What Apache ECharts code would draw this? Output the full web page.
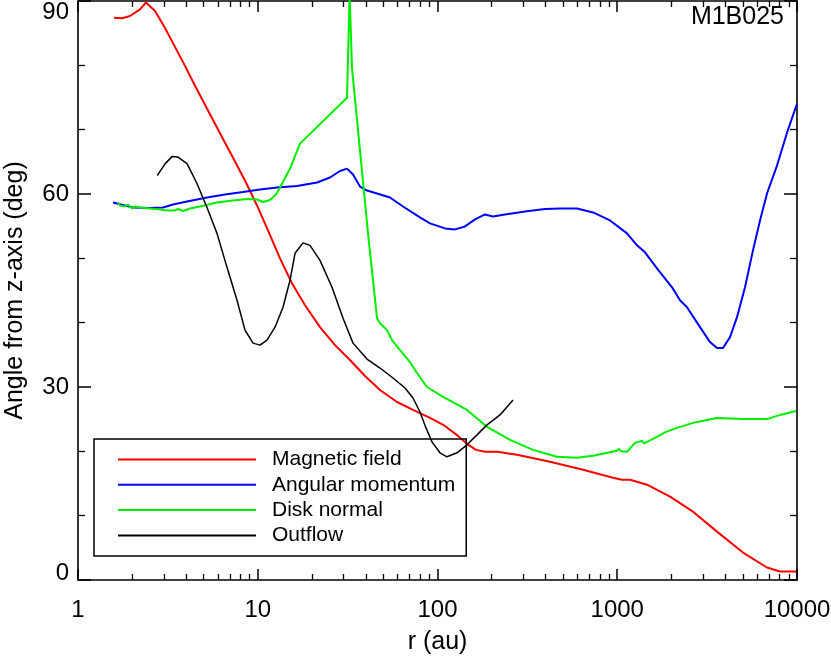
<!DOCTYPE html>
<html>
<head>
<meta charset="utf-8">
<script src="https://cdn.jsdelivr.net/npm/echarts@6/dist/echarts.min.js"></script>
<style>html,body{margin:0;padding:0;background:#fff}#c{width:831px;height:659px}</style>
</head>
<body>
<div id="c"></div>
<script>
// ---- data: [r (au), angle (deg)] ----
const seriesNames = ['Magnetic field', 'Angular momentum', 'Disk normal', 'Outflow'];
const xTickValues = [1, 10, 100, 1000, 10000];
const yTickValues = [0, 30, 60, 90];

const magneticField = [
  [1.586,87.41],[1.757,87.32],[1.947,87.67],[2.213,88.71],[2.389,89.77],[2.682,88.45],[3.048,85.81],
  [3.464,82.87],[3.938,79.92],[4.476,76.82],[5.088,73.88],[5.783,70.93],[6.574,67.98],[7.471,65.04],
  [8.601,61.78],[9.904,58.22],[11.40,54.34],[13.30,50.0],[15.50,46.12],[18.32,42.71],[22.20,39.30],
  [26.90,36.51],[32.60,34.19],[39.52,31.71],[47.87,29.53],[59.52,27.67],[73.06,26.43],[90.85,25.19],
  [110.1,23.95],[130.0,22.40],[145.9,21.16],[163.8,20.23],[183.8,19.92],[214.3,19.92],[276.9,19.46],
  [422.6,18.37],[645.0,17.13],[947.0,15.89],[1063,15.58],[1178,15.58],[1464,14.81],[1966,12.95],
  [2639,10.62],[3588,7.52],[5006,4.26],[6810,1.94],[8042,1.32],[9872,1.32]
];
const angularMomentum = [
  [1.566,58.68],[2.023,57.91],[2.515,57.83],[2.971,57.91],[3.377,58.37],[4.041,58.84],[5.221,59.46],
  [6.574,59.92],[8.279,60.31],[10.29,60.70],[12.80,61.01],[16.54,61.24],[21.36,61.78],[25.23,62.56],
  [28.68,63.57],[31.37,63.95],[33.88,63.02],[37.06,61.16],[40.54,60.54],[46.07,60.08],[54.42,59.46],
  [64.29,58.06],[79.89,56.36],[90.85,55.43],[110.1,54.65],[125.1,54.50],[142.2,54.96],[161.7,56.05],
  [183.8,56.82],[203.6,56.51],[237.4,56.82],[306.8,57.29],[396.4,57.67],[480.3,57.75],[597.2,57.75],
  [733.2,57.13],[911.6,55.89],[1133,53.88],[1288,52.02],[1427,50.93],[1664,48.45],[2017,45.50],
  [2234,43.49],[2444,42.40],[2887,39.30],[3281,36.98],[3588,36.05],[3876,36.05],[4240,37.75],
  [4637,40.85],[5137,45.50],[5690,51.24],[6226,55.89],[6810,60.08],[7740,64.42],[8800,69.53],[10000,74.03]
];
const diskNormal = [
  [1.669,58.68],[1.713,58.22],[1.757,58.53],[1.826,58.06],[1.897,58.37],[1.997,57.75],[2.075,58.06],
  [2.213,57.91],[2.515,57.75],[2.859,57.60],[3.127,57.44],[3.464,57.44],[3.600,57.67],[3.838,57.36],
  [4.199,57.75],[4.772,58.06],[5.933,58.68],[7.286,58.99],[8.713,59.22],[9.904,59.15],[10.70,58.76],
  [11.70,59.07],[12.64,59.92],[13.30,61.01],[15.12,63.95],[17.18,67.83],[31.37,74.96],[32.45,91.0],
  [33.44,79.61],[37.06,66.74],[41.07,53.88],[46.07,40.70],[47.87,39.92],[52.37,38.84],[55.85,37.29],
  [61.86,35.74],[70.31,33.88],[76.91,32.17],[87.44,30.00],[107.3,28.45],[145.9,26.43],[188.6,23.80],
  [253.2,21.78],[340.0,20.23],[462.1,19.15],[597.2,18.99],[733.2,19.30],[996.8,20.08],[1023,20.39],
  [1049,20.0],[1133,19.92],[1255,21.32],[1373,21.63],[1408,21.24],[1664,22.25],[1867,23.02],
  [2150,23.64],[2639,24.42],[2961,24.73],[3588,25.19],[5006,25.04],[6898,25.04],[8042,25.66],[9872,26.28]
];
const outflow = [
  [2.762,62.87],[3.048,64.68],[3.334,65.81],[3.600,65.74],[4.041,64.73],[4.592,61.63],[5.221,57.91],
  [5.933,53.88],[6.745,48.60],[7.667,43.49],[8.495,38.84],[9.410,36.82],[10.29,36.51],[11.26,37.29],
  [12.47,39.30],[13.82,42.40],[15.12,46.59],[16.12,50.78],[17.85,52.40],[19.53,52.02],[22.20,49.69],
  [25.89,45.50],[29.82,40.70],[33.88,36.82],[40.54,34.34],[47.87,32.95],[56.55,31.40],[65.96,29.84],
  [73.06,28.29],[79.89,26.12],[86.30,23.64],[93.18,21.47],[103.2,19.77],[112.9,19.15],[128.4,19.77],
  [145.9,21.01],[165.9,22.56],[188.6,24.11],[222.7,25.66],[263.0,27.98]
];
const minorXTicks = [2,3,4,5,6,7,8,9,20,30,40,50,60,70,80,90,200,300,400,500,600,700,800,900,2000,3000,4000,5000,6000,7000,8000,9000];

const FONT = 'Liberation Sans, Arial, Helvetica, sans-serif';
const axisLine = {show: true, lineStyle: {color: '#000', width: 1.6}};

const chart = echarts.init(document.getElementById('c'), null, {renderer: 'canvas'});
const baseX = {type: 'log', logBase: 10, min: 1, max: 10000, splitLine: {show: false}};
const yMin = yTickValues[0], yMax = yTickValues[yTickValues.length - 1];
chart.setOption({
  animation: false,
  backgroundColor: '#fff',
  grid: {left: 78, right: 34, top: 1, bottom: 79, containLabel: false, outerBoundsMode: 'none'},
  title: {
    text: 'M1B025', right: 47, top: 5, padding: 0,
    textStyle: {fontFamily: FONT, fontSize: 25, fontWeight: 'normal', color: '#000'}
  },
  legend: {
    orient: 'vertical', left: 94, top: 439,
    padding: [8, 11, 8, 23],
    borderColor: '#000', borderWidth: 1.5, borderRadius: 0,
    itemWidth: 138, itemHeight: 25, itemGap: 0.3,
    data: seriesNames,
    itemStyle: {opacity: 0},
    lineStyle: {width: 2},
    textStyle: {fontFamily: FONT, fontSize: 21, color: '#000', lineHeight: 25, padding: [0, 0, 0, 11]}
  },
  xAxis: [
    Object.assign({}, baseX, {
      position: 'bottom', name: 'r (au)', nameLocation: 'middle', nameGap: 50,
      nameTextStyle: {fontFamily: FONT, fontSize: 25, color: '#000'},
      axisLine: axisLine,
      axisTick: {show: true, inside: true, length: 11, customValues: xTickValues, lineStyle: {color: '#000', width: 1.5}},
      axisLabel: {show: true, margin: 18, customValues: xTickValues, fontFamily: FONT, fontSize: 24, color: '#000',
        formatter: v => String(Math.round(v))},
      minorTick: {show: false}
    }),
    Object.assign({}, baseX, {
      position: 'bottom', axisLine: {show: false},
      axisTick: {show: true, inside: true, length: 6, customValues: minorXTicks, lineStyle: {color: '#000', width: 1.3}},
      axisLabel: {show: false}
    }),
    Object.assign({}, baseX, {
      position: 'top', axisLine: axisLine,
      axisTick: {show: true, inside: true, length: 11, customValues: xTickValues, lineStyle: {color: '#000', width: 1.5}},
      axisLabel: {show: false}
    }),
    Object.assign({}, baseX, {
      position: 'top', axisLine: {show: false},
      axisTick: {show: true, inside: true, length: 6, customValues: minorXTicks, lineStyle: {color: '#000', width: 1.3}},
      axisLabel: {show: false}
    })
  ],
  yAxis: [
    {
      type: 'value', position: 'left', min: 0, max: 90, interval: 30,
      name: 'Angle from z-axis (deg)', nameLocation: 'middle', nameGap: 50, nameRotate: 90,
      nameTextStyle: {fontFamily: FONT, fontSize: 25, color: '#000'},
      axisLine: axisLine, splitLine: {show: false},
      axisTick: {show: true, inside: true, length: 13, lineStyle: {color: '#000', width: 1.5}},
      minorTick: {show: true, splitNumber: 3, length: 7, lineStyle: {color: '#000', width: 1.3}},
      axisLabel: {show: true, margin: 9, fontFamily: FONT, fontSize: 24, color: '#000',
        customValues: yTickValues, verticalAlignMaxLabel: 'top', verticalAlignMinLabel: 'bottom',
        formatter: v => v === yMax ? '{t|' + v + '}' : (v === yMin ? '{b|' + v + '}' : String(v)),
        rich: {
          t: {fontFamily: FONT, fontSize: 24, color: '#000', lineHeight: 22},
          b: {fontFamily: FONT, fontSize: 24, color: '#000', lineHeight: 14}
        }}
    },
    {
      type: 'value', position: 'right', min: 0, max: 90, interval: 30,
      axisLine: axisLine, splitLine: {show: false},
      axisTick: {show: true, inside: true, length: 13, lineStyle: {color: '#000', width: 1.5}},
      minorTick: {show: true, splitNumber: 3, length: 7, lineStyle: {color: '#000', width: 1.3}},
      axisLabel: {show: false}
    }
  ],
  series: [
    {name: seriesNames[0], type: 'line', data: magneticField, color: '#ff0000', lineStyle: {width: 2}},
    {name: seriesNames[1], type: 'line', data: angularMomentum, color: '#0000ff', lineStyle: {width: 2}},
    {name: seriesNames[2], type: 'line', data: diskNormal, color: '#00ee00', lineStyle: {width: 2}},
    {name: seriesNames[3], type: 'line', data: outflow, color: '#000000', lineStyle: {width: 1.5}}
  ].map(s => Object.assign(s, {symbol: 'none', showSymbol: false, clip: true, smooth: false,
      xAxisIndex: 0, yAxisIndex: 0, emphasis: {disabled: true}}))
});
</script>
</body>
</html>
